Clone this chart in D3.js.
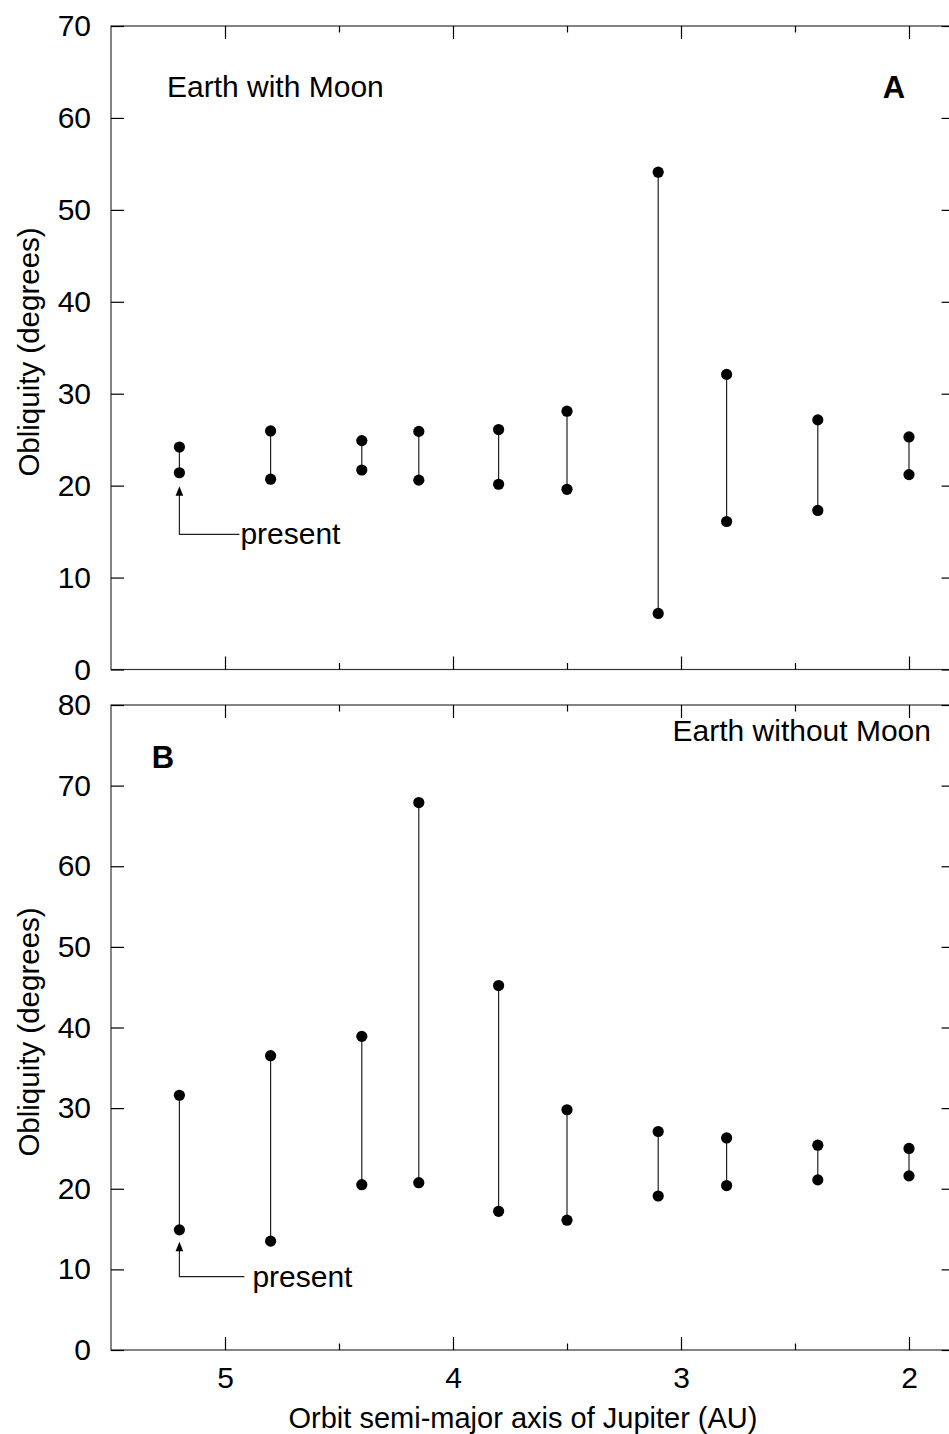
<!DOCTYPE html>
<html>
<head>
<meta charset="utf-8">
<script src="https://cdn.jsdelivr.net/npm/d3@7"></script>
<style>
  html, body { margin: 0; padding: 0; background: #fff; }
  svg { display: block; font-family: "Liberation Sans", Arial, Helvetica, sans-serif; }
</style>
</head>
<body>
<svg id="chart" width="949" height="1434"></svg>
<script>
// ---- data ----
const positions = [5.2, 4.8, 4.4, 4.15, 3.8, 3.5, 3.1, 2.8, 2.4, 2.0];
const withMoonMin = [21.4, 20.7, 21.7, 20.6, 20.15, 19.6, 6.1, 16.1, 17.3, 21.2];
const withMoonMax = [24.2, 25.95, 24.9, 25.9, 26.1, 28.1, 54.1, 32.1, 27.15, 25.3];
const withoutMoonMin = [14.9, 13.5, 20.5, 20.75, 17.2, 16.1, 19.1, 20.4, 21.1, 21.6];
const withoutMoonMax = [31.6, 36.5, 38.9, 67.9, 45.2, 29.8, 27.1, 26.3, 25.4, 25.0];
const xTicks = [5, 4.5, 4, 3.5, 3, 2.5, 2];
const xTickLabels = ["5", "", "4", "", "3", "", "2"];
const yTicksA = [0, 10, 20, 30, 40, 50, 60, 70];
const yTicksB = [0, 10, 20, 30, 40, 50, 60, 70, 80];
const xDomain = [5.5, 1.8];
const yDomainA = [0, 70];
const yDomainB = [0, 80];

const svg = d3.select("#chart");
const left = 111, right = 954.6;
const x = d3.scaleLinear().domain(xDomain).range([left, right]);
const FS = 30;

function panel(cfg) {
  const y = d3.scaleLinear().domain(cfg.yDomain).range([cfg.bottom, cfg.top]);
  const g = svg.append("g");
  // frame
  g.append("rect").attr("x", left).attr("y", cfg.top)
    .attr("width", right - left).attr("height", cfg.bottom - cfg.top)
    .attr("fill", "none").attr("stroke", "#333").attr("stroke-width", 1.2);

  // left axis
  const la = g.append("g").attr("transform", `translate(${left},0)`)
    .call(d3.axisLeft(y).tickValues(cfg.yTicks).tickSize(-13).tickSizeOuter(0).tickPadding(20).tickFormat(d3.format("d")));
  la.select(".domain").remove();
  la.attr("font-family", null);
  la.selectAll("line").attr("stroke", "#000").attr("stroke-width", 1.2);
  la.selectAll("text").attr("font-size", FS).attr("fill", "#000");

  // right axis (ticks only)
  const ra = g.append("g").attr("transform", `translate(${right},0)`)
    .call(d3.axisRight(y).tickValues(cfg.yTicks).tickSize(-13).tickSizeOuter(0).tickFormat(""));
  ra.select(".domain").remove();
  ra.selectAll("line").attr("stroke", "#000").attr("stroke-width", 1.2);

  // top ticks
  const ta = g.append("g").attr("transform", `translate(0,${cfg.top})`)
    .call(d3.axisTop(x).tickValues(xTicks).tickSize(-13).tickSizeOuter(0).tickFormat(""));
  ta.select(".domain").remove();
  ta.selectAll("line").attr("stroke", "#000").attr("stroke-width", 1.2)
    .attr("y2", (d, i) => xTickLabels[i] === "" ? 6.5 : 13);

  // bottom ticks
  const ba = g.append("g").attr("transform", `translate(0,${cfg.bottom})`)
    .call(d3.axisBottom(x).tickValues(xTicks).tickSize(-13).tickSizeOuter(0).tickPadding(17)
      .tickFormat((d, i) => cfg.showXLabels ? xTickLabels[i] : ""));
  ba.select(".domain").remove();
  ba.attr("font-family", null);
  ba.selectAll("line").attr("stroke", "#000").attr("stroke-width", 1.2)
    .attr("y2", (d, i) => xTickLabels[i] === "" ? -6.5 : -13);
  ba.selectAll("text").attr("font-size", FS).attr("fill", "#000");

  // y title
  g.append("text")
    .attr("transform", `translate(28,${cfg.titleY}) rotate(-90)`)
    .attr("text-anchor", "middle").attr("dominant-baseline", "central")
    .attr("font-size", 29.5).text("Obliquity (degrees)");

  // ranges
  const rows = positions.map((p, i) => ({ p, lo: cfg.mins[i], hi: cfg.maxs[i] }));
  g.selectAll("line.range").data(rows).join("line").attr("class", "range")
    .attr("x1", d => x(d.p)).attr("x2", d => x(d.p))
    .attr("y1", d => y(d.lo)).attr("y2", d => y(d.hi))
    .attr("stroke", "#222").attr("stroke-width", 1.2);
  const pts = rows.flatMap(d => [{ p: d.p, v: d.lo }, { p: d.p, v: d.hi }]);
  g.selectAll("circle.pt").data(pts).join("circle").attr("class", "pt")
    .attr("cx", d => x(d.p)).attr("cy", d => y(d.v)).attr("r", 5.6).attr("fill", "#000");

  // present arrow
  const px = x(positions[0]);
  const tipY = y(cfg.mins[0]) + cfg.arrowGap;
  const elbowY = y(cfg.arrowElbow);
  g.append("path")
    .attr("d", `M${px},${tipY + 8} L${px},${elbowY} L${px + cfg.arrowLen},${elbowY}`)
    .attr("fill", "none").attr("stroke", "#222").attr("stroke-width", 1.2);
  g.append("path")
    .attr("d", `M${px},${tipY} L${px - 3.8},${tipY + 9.5} L${px + 3.8},${tipY + 9.5} Z`)
    .attr("fill", "#000");
  g.append("text").attr("x", px + cfg.arrowLen + cfg.textGap).attr("y", elbowY + 10)
    .attr("font-size", FS).text("present");

  // annotations
  cfg.annot(g);
  return y;
}

panel({
  top: 26, bottom: 669.5, yDomain: yDomainA, yTicks: yTicksA,
  mins: withMoonMin, maxs: withMoonMax, showXLabels: false, titleY: 352,
  arrowGap: 13.5, arrowElbow: 14.7, arrowLen: 60, textGap: 1,
  annot: g => {
    g.append("text").attr("x", 167).attr("y", 97).attr("font-size", FS).text("Earth with Moon");
    g.append("text").attr("x", 894).attr("y", 98).attr("text-anchor", "middle")
      .attr("font-size", 31).attr("font-weight", "bold").text("A");
  }
});

panel({
  top: 705, bottom: 1350, yDomain: yDomainB, yTicks: yTicksB,
  mins: withoutMoonMin, maxs: withoutMoonMax, showXLabels: true, titleY: 1032,
  arrowGap: 12, arrowElbow: 9.1, arrowLen: 65, textGap: 8,
  annot: g => {
    g.append("text").attr("x", 931).attr("y", 741).attr("text-anchor", "end")
      .attr("font-size", FS).text("Earth without Moon");
    g.append("text").attr("x", 163).attr("y", 768).attr("text-anchor", "middle")
      .attr("font-size", 31).attr("font-weight", "bold").text("B");
  }
});

svg.append("text").attr("x", 523).attr("y", 1428).attr("text-anchor", "middle")
  .attr("font-size", 29).text("Orbit semi-major axis of Jupiter (AU)");
</script>
</body>
</html>
